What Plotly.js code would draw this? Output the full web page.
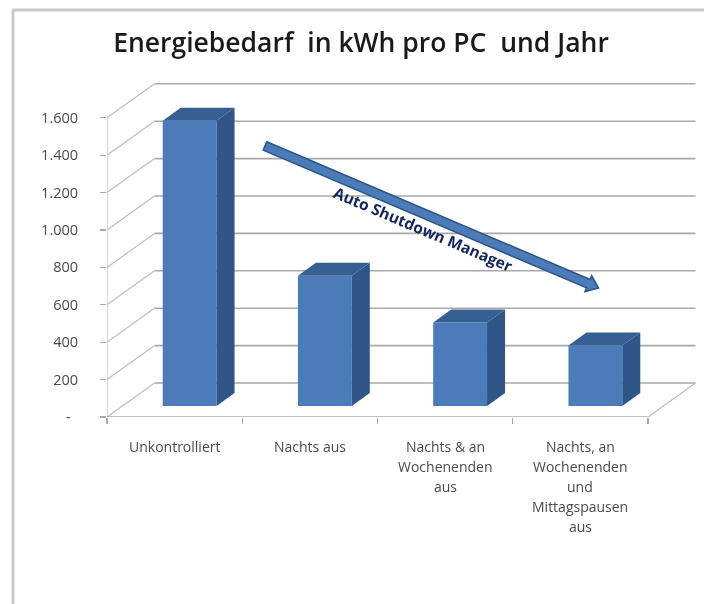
<!DOCTYPE html>
<html><head><meta charset="utf-8">
<script src="https://cdn.plot.ly/plotly-3.0.1.min.js"></script>
<style>html,body{margin:0;padding:0;background:#fff}#chart{filter:blur(0.5px)}</style></head>
<body><div id="chart" style="width:704px;height:604px"></div>
<script>
const categories = [["Unkontrolliert"],["Nachts aus"],["Nachts & an","Wochenenden","aus"],["Nachts, an","Wochenenden","und","Mittagspausen","aus"]];
const energyKwh = [1525, 696, 446, 323];
const yTickVals = [0,200,400,600,800,1000,1200,1400,1600];
const yTickText = ["-\u00A0\u00A0","200","400","600","800","1.000","1.200","1.400","1.600"];
const titleText = "Energiebedarf\u00A0 in kWh pro PC\u00A0 und Jahr";
const arrowText = "Auto Shutdown Manager";

const W=704,H=604,L=107,R=4,T=77,B=187;
const pxPerX=135.25, pxPerY=37.4/200;
const xMax=(W-L-R)/pxPerX, yMax=(H-T-B)/pxPerY;
const wallDx=47.5/pxPerX, wallDy=34/pxPerY;
const barDx=15/pxPerX, barDy=11/pxPerY, barW=0.398;
const depthX=18/pxPerX, depthY=13/pxPerY;
const px=(x)=>(x-L)/(W-L-R), py=(y)=>(H-B-y)/(H-T-B);
const FRONT="#4b7cb9",SIDE="#2f5687",TOP="#365f92",GRID="#a9a9a9",DIAG="#bdbdbd",TXT="#4a4a4a";
const FONT='"Open Sans", sans-serif';

const centers=energyKwh.map((_,i)=>i+0.5+barDx);
const shapes=[];
const line=(x0,y0,x1,y1,color,width)=>shapes.push({type:'line',layer:'below',xref:'x',yref:'y',x0,y0,x1,y1,line:{color,width}});
yTickVals.forEach(v=>{
  line(wallDx,v+wallDy,4+wallDx,v+wallDy,GRID,1.6);
  line(0,v,wallDx,v+wallDy,DIAG,1.2);
});
line(0,0,0,1600,DIAG,1.2);
line(0,0,4,0,GRID,1.4);
line(4,0,4+wallDx,wallDy,DIAG,1.2);
// chart frame
shapes.push({type:'line',xref:'paper',yref:'paper',x0:px(13),x1:px(13),y0:py(10),y1:py(604),line:{color:'#c9c9c9',width:3}});
shapes.push({type:'line',xref:'paper',yref:'paper',x0:px(12),x1:px(704),y0:py(10),y1:py(10),line:{color:'#c9c9c9',width:3}});
// arrow
const A=[265,146],Tip=[598.5,288];
const d=[Tip[0]-A[0],Tip[1]-A[1]],len=Math.hypot(d[0],d[1]),u=[d[0]/len,d[1]/len],n=[-u[1],u[0]];
const P=(along,off)=>[A[0]+u[0]*along+n[0]*off,A[1]+u[1]*along+n[1]*off];
const hb=len-11;
const poly=[P(0,-4.5),P(hb,-4.5),P(hb,-8.5),P(len,0),P(hb,8.5),P(hb,4.5),P(0,4.5)];
shapes.push({type:'path',xref:'paper',yref:'paper',path:'M'+poly.map(p=>px(p[0])+','+py(p[1])).join('L')+'Z',fillcolor:FRONT,line:{color:SIDE,width:1.6}});

const traces=[{type:'bar',x:centers,y:energyKwh,base:barDy,width:barW,marker:{color:FRONT,line:{width:0}},hoverinfo:'skip',showlegend:false}];
energyKwh.forEach((v,i)=>{
  const xr=centers[i]+barW/2,xl=centers[i]-barW/2,y0=barDy,y1=barDy+v;
  traces.push({type:'scatter',mode:'lines',x:[xr,xr+depthX,xr+depthX,xr,xr],y:[y0,y0+depthY,y1+depthY,y1,y0],fill:'toself',fillcolor:SIDE,line:{width:0,color:SIDE},hoverinfo:'skip',showlegend:false});
  traces.push({type:'scatter',mode:'lines',x:[xl,xr,xr+depthX,xl+depthX,xl],y:[y1,y1,y1+depthY,y1+depthY,y1],fill:'toself',fillcolor:TOP,line:{width:0,color:TOP},hoverinfo:'skip',showlegend:false});
});

const annotations=[];
categories.forEach((lines,i)=>lines.forEach((t,j)=>annotations.push({
  text:t,xref:'x',x:i+0.5,yref:'paper',y:py(446+j*20.2),xanchor:'center',yanchor:'middle',showarrow:false,
  font:{family:FONT,size:14,color:TXT}})));
annotations.push({text:'<b>'+arrowText+'</b>',xref:'paper',yref:'paper',x:px(423),y:py(229),xanchor:'center',yanchor:'middle',showarrow:false,textangle:23,
  font:{family:FONT,size:15.5,color:'#10265c'}});

Plotly.newPlot('chart',traces,{
  width:W,height:H,paper_bgcolor:'#fff',plot_bgcolor:'#fff',showlegend:false,
  margin:{l:L,r:R,t:T,b:B,pad:0},
  title:{text:titleText,x:px(361),xref:'paper',xanchor:'center',y:1-43/H,yref:'container',yanchor:'middle',font:{family:FONT,size:26.5,color:'#1a1a1a',weight:600}},
  xaxis:{range:[0,xMax],showgrid:false,zeroline:false,showline:false,showticklabels:false,tickvals:[0,1,2,3,4],ticks:'outside',ticklen:6,tickcolor:GRID,tickwidth:1.2},
  yaxis:{range:[0,yMax],showgrid:false,zeroline:false,showline:false,tickvals:yTickVals,ticktext:yTickText,ticks:'outside',ticklen:6,tickcolor:GRID,tickwidth:1.2,ticklabelstandoff:19,tickfont:{family:FONT,size:14.5,color:TXT}},
  shapes,annotations
},{displayModeBar:false,staticPlot:true});
</script></body></html>
